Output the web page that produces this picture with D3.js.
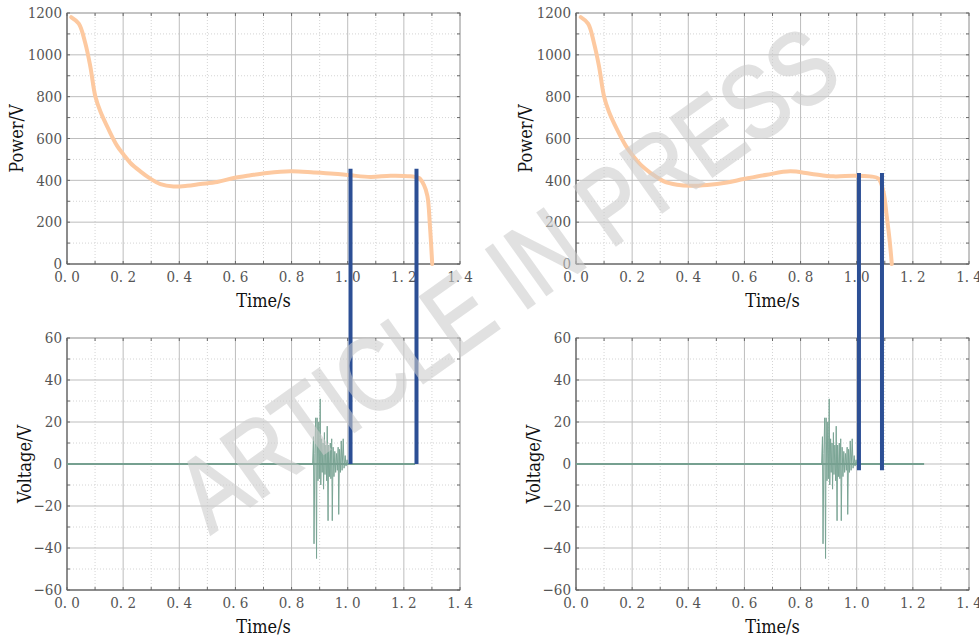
<!DOCTYPE html>
<html>
<head>
<meta charset="utf-8">
<script src="https://cdn.jsdelivr.net/npm/d3@7/dist/d3.min.js"></script>
<style>
body { margin: 0; background: #fff; }
svg { display: block; }
</style>
</head>
<body>
<div id="chart"></div>
<script>
// power curve, left case (t in s, P)
let powerTimeA = [0.015, 0.042, 0.065, 0.083, 0.101, 0.119, 0.149, 0.178, 0.202, 0.226, 0.261, 0.297, 0.333, 0.380, 0.428, 0.475, 0.535, 0.594, 0.654, 0.713, 0.796, 0.879, 0.951, 1.010, 1.082, 1.153, 1.224, 1.254, 1.271, 1.284, 1.293, 1.301];
let powerValA = [1180, 1149, 1057, 945, 801, 729, 641, 566, 522, 483, 443, 408, 382, 371, 374, 382, 392, 411, 424, 435, 443, 438, 432, 424, 416, 422, 419, 411, 379, 324, 180, 0];

// power curve, right case
let powerTimeB = [0.017, 0.043, 0.064, 0.082, 0.100, 0.117, 0.147, 0.177, 0.200, 0.230, 0.266, 0.313, 0.360, 0.408, 0.467, 0.538, 0.597, 0.680, 0.763, 0.835, 0.917, 0.989, 1.048, 1.078, 1.095, 1.107, 1.117, 1.125];
let powerValB = [1180, 1149, 1057, 945, 801, 729, 641, 566, 522, 475, 435, 395, 379, 374, 378, 390, 406, 427, 443, 432, 419, 422, 419, 408, 347, 228, 116, 0];

// voltage trace (same for both cases)
let voltTime = [0, 0.875, 0.878, 0.880, 0.883, 0.886, 0.889, 0.891, 0.894, 0.897, 0.899, 0.902, 0.904, 0.907, 0.909, 0.912, 0.914, 0.917, 0.919, 0.922, 0.925, 0.927, 0.930, 0.932, 0.935, 0.938, 0.940, 0.943, 0.945, 0.948, 0.951, 0.954, 0.957, 0.960, 0.963, 0.966, 0.968, 0.971, 0.974, 0.977, 0.980, 0.984, 0.987, 0.991, 0.994, 0.998, 1.0, 1.24];
let voltVal = [0, 0, 13, -38, 5, 22, -45, 22, -8, 20, -7, 31, -10, 12, -4, 10, -12, 15, -5, 9, -8, 18, -27, 9, -6, 10, -7, 12, -27, 8, -6, 6, -4, 5, -3, 8, -24, 7, -4, 11, -3, 12, -2, 4, -1, 2, 0, 0];

// blue marker lines: times, top (power) and bottom (voltage) ends
let markerTimesA = [1.01, 1.245];
let markerTimesB = [1.008, 1.09];
let markerTopA = 455, markerBottomA = 0;
let markerTopB = 435, markerBottomB = -3;

let xTicks = [0, 0.2, 0.4, 0.6, 0.8, 1.0, 1.2, 1.4];
let powerTicks = [0, 200, 400, 600, 800, 1000, 1200];
let voltTicks = [-60, -40, -20, 0, 20, 40, 60];

const W = 979, H = 636;
const svg = d3.select("#chart").append("svg").attr("width", W).attr("height", H);

const serif = "'DejaVu Serif Condensed', 'DejaVu Serif', serif";

function makeX(left) { return d3.scaleLinear().domain([0, 1.4]).range([left, left + 393]); }
const yP = d3.scaleLinear().domain([0, 1200]).range([264, 13]);
const yV = d3.scaleLinear().domain([-60, 60]).range([590, 338]);

function fmtX(d) { return d3.format(".1f")(d).replace(".", ". "); }

function panel(x, y, yTicks, yStep, yTitle, titleOff) {
	const g = svg.append("g");
	const [x0, x1] = x.range();
	const [y0, y1] = y.range(); // y0 bottom, y1 top
	const yd = y.domain();

	// minor dotted grid
	let minorX = d3.range(0.1, 1.4, 0.2);
	let minorY = d3.range(yd[0] + yStep / 2, yd[1], yStep);
	g.selectAll(".mx").data(minorX).enter().append("line")
		.attr("x1", d => x(d)).attr("x2", d => x(d)).attr("y1", y0).attr("y2", y1)
		.attr("stroke", "#d4d4d4").attr("stroke-dasharray", "1,2");
	g.selectAll(".my").data(minorY).enter().append("line")
		.attr("y1", d => y(d)).attr("y2", d => y(d)).attr("x1", x0).attr("x2", x1)
		.attr("stroke", "#d4d4d4").attr("stroke-dasharray", "1,2");

	// major grid
	g.selectAll(".gx").data(xTicks.slice(1, -1)).enter().append("line")
		.attr("x1", d => x(d)).attr("x2", d => x(d)).attr("y1", y0).attr("y2", y1)
		.attr("stroke", "#bdbdbd");
	g.selectAll(".gy").data(yTicks.slice(1, -1)).enter().append("line")
		.attr("y1", d => y(d)).attr("y2", d => y(d)).attr("x1", x0).attr("x2", x1)
		.attr("stroke", "#bdbdbd");

	// frame
	g.append("rect").attr("x", x0).attr("y", y1).attr("width", x1 - x0).attr("height", y0 - y1)
		.attr("fill", "none").attr("stroke", "#8a8a8a");
	g.append("line").attr("x1", x0).attr("x2", x0).attr("y1", y0).attr("y2", y1).attr("stroke", "#555");
	g.append("line").attr("x1", x0).attr("x2", x1).attr("y1", y0).attr("y2", y0).attr("stroke", "#555");

	// inward ticks on all four sides
	let allX = xTicks.concat(minorX), allY = yTicks.concat(minorY);
	allX.forEach(d => {
		g.append("line").attr("x1", x(d)).attr("x2", x(d)).attr("y1", y0).attr("y2", y0 - 3).attr("stroke", "#666");
		g.append("line").attr("x1", x(d)).attr("x2", x(d)).attr("y1", y1).attr("y2", y1 + 3).attr("stroke", "#666");
	});
	allY.forEach(d => {
		g.append("line").attr("x1", x0).attr("x2", x0 + 3).attr("y1", y(d)).attr("y2", y(d)).attr("stroke", "#666");
		g.append("line").attr("x1", x1).attr("x2", x1 - 3).attr("y1", y(d)).attr("y2", y(d)).attr("stroke", "#666");
	});

	// tick labels
	g.selectAll(".xl").data(xTicks).enter().append("text")
		.attr("x", d => x(d)).attr("y", y0 + 18)
		.attr("text-anchor", "middle")
		.style("font-family", serif).style("font-size", "15px").attr("fill", "#555")
		.text(fmtX);
	g.selectAll(".yl").data(yTicks).enter().append("text")
		.attr("x", x0 - 5).attr("y", d => y(d))
		.attr("dy", ".35em").attr("text-anchor", "end")
		.style("font-family", serif).style("font-size", "15px").attr("fill", "#555")
		.text(d => d3.format("")(d));

	// titles
	g.append("text").attr("x", (x0 + x1) / 2).attr("y", y0 + 43)
		.attr("text-anchor", "middle")
		.style("font-family", serif).style("font-size", "18px").attr("fill", "#111")
		.text("Time/s");
	let tx = x0 - titleOff, ty = (y0 + y1) / 2;
	g.append("text").attr("x", tx).attr("y", ty)
		.attr("text-anchor", "middle")
		.attr("transform", "rotate(-90 " + tx + " " + ty + ")")
		.style("font-family", serif).style("font-size", "18px").attr("fill", "#111")
		.text(yTitle);
	return g;
}

function powerLine(x, ts, vs) {
	const line = d3.line().x(d => x(d[0])).y(d => yP(d[1])).curve(d3.curveCatmullRom);
	svg.append("path").datum(d3.zip(ts, vs))
		.attr("d", line).attr("fill", "none")
		.attr("stroke", "#fdc9a0").attr("stroke-width", 4)
		.attr("stroke-linejoin", "round").attr("stroke-linecap", "round");
}

function voltLine(x) {
	const line = d3.line().x(d => x(d[0])).y(d => yV(d[1]));
	svg.append("path").datum(d3.zip(voltTime, voltVal))
		.attr("d", line).attr("fill", "none")
		.attr("stroke", "#7ba595").attr("stroke-width", 1);
	// flat part of the trace reads a little heavier
	svg.append("path").datum(d3.zip(voltTime, voltVal).filter(d => d[1] == 0))
		.attr("d", line).attr("fill", "none")
		.attr("stroke", "#76a090").attr("stroke-width", 2);
}

function markers(x, times, top, bottom) {
	svg.selectAll(null).data(times).enter().append("line")
		.attr("x1", d => x(d)).attr("x2", d => x(d))
		.attr("y1", yP(top)).attr("y2", yV(bottom))
		.attr("stroke", "#2c4f95").attr("stroke-width", 4);
}

const xA = makeX(67), xB = makeX(576);

panel(xA, yP, powerTicks, 200, "Power/V", 44);
panel(xB, yP, powerTicks, 200, "Power/V", 44);
panel(xA, yV, voltTicks, 20, "Voltage/V", 36);
panel(xB, yV, voltTicks, 20, "Voltage/V", 36);

powerLine(xA, powerTimeA, powerValA);
powerLine(xB, powerTimeB, powerValB);
voltLine(xA);
voltLine(xB);
markers(xA, markerTimesA, markerTopA, markerBottomA);
markers(xB, markerTimesB, markerTopB, markerBottomB);

// watermark
svg.append("text")
	.attr("x", 0).attr("y", 0)
	.attr("text-anchor", "middle")
	.attr("transform", "translate(528,308) rotate(-35.5)")
	.attr("textLength", 780).attr("lengthAdjust", "spacingAndGlyphs")
	.style("font-family", "'Liberation Sans', Arial, sans-serif").style("font-size", "104px")
	.attr("fill", "#cdcdcd").attr("stroke", "#cdcdcd").attr("stroke-width", 2.5)
	.attr("opacity", 0.58)
	.text("ARTICLE IN PRESS");
</script>
</body>
</html>
